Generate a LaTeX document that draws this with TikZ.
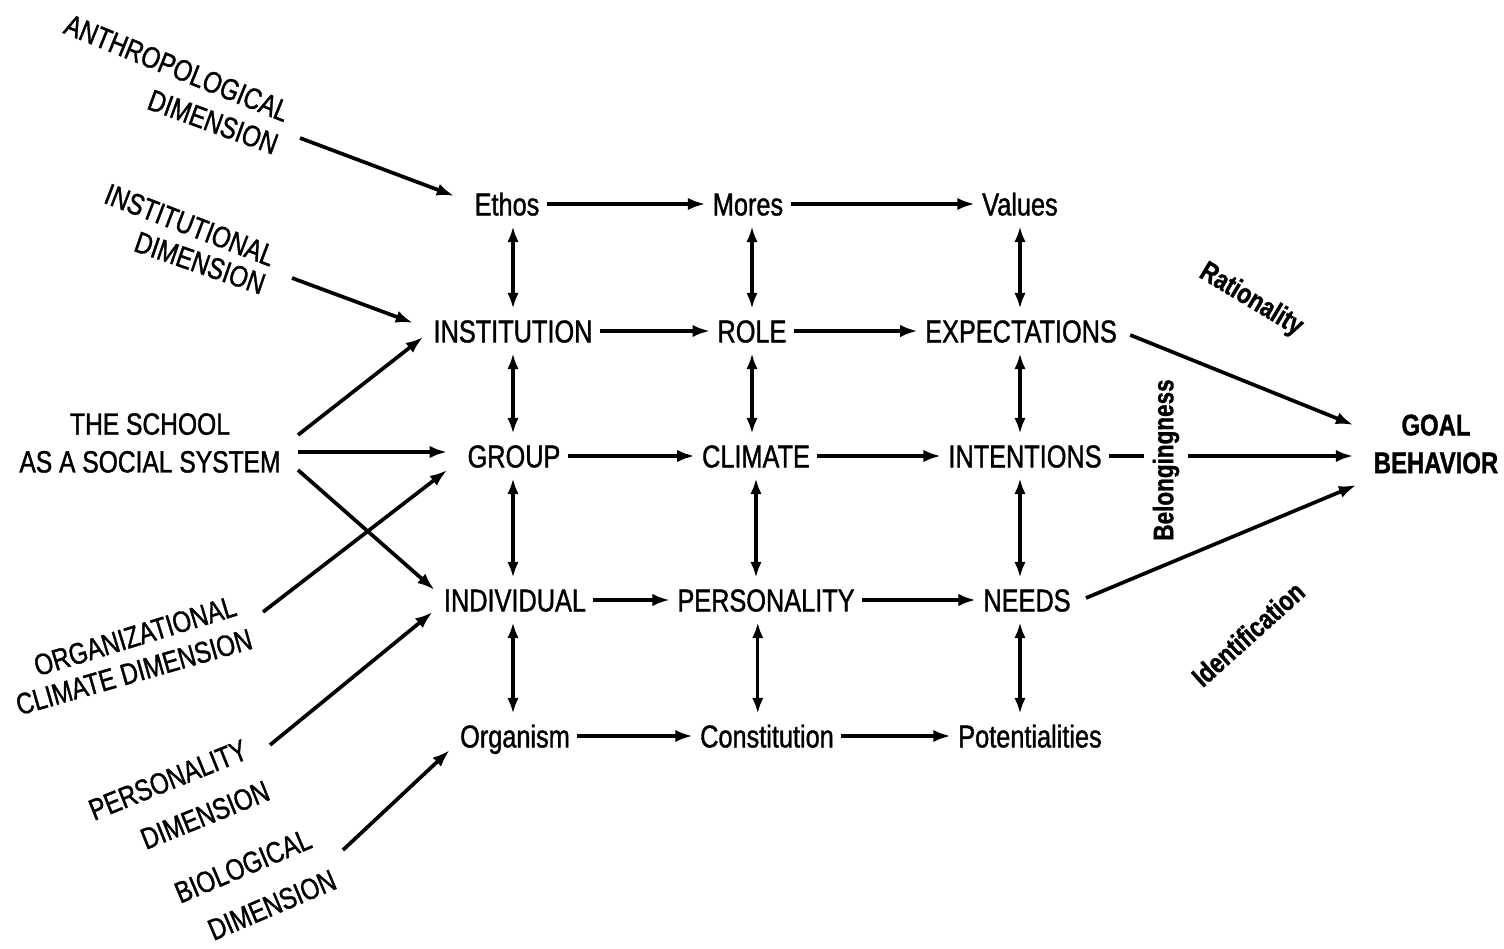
\documentclass[tikz,border=0pt]{standalone}
\usepackage{fontspec}
\setmainfont{Liberation Sans}[FakeStretch=0.8,FakeBold=1.2]
\usetikzlibrary{arrows.meta}
\begin{document}
\begin{tikzpicture}[x=0.02cm,y=-0.02cm,
  lbl/.style={inner xsep=4pt,inner ysep=6pt,text height=13pt,text depth=0pt,font=\fontsize{18}{21.5}\selectfont},
  glbl/.style={inner sep=4pt,font=\fontsize{18}{21.5}\selectfont},
  dim/.style={inner sep=1pt,font=\fontsize{17}{21.5}\selectfont},
  side/.style={inner sep=1pt,font=\bfseries\fontsize{16}{18}\selectfont},
  arr/.style={line width=2.1pt,-{Latex[length=10pt,width=7pt]}},
  darr/.style={line width=1.8pt,{Latex[length=9pt,width=6.5pt]}-{Latex[length=9pt,width=6.5pt]}}]
\useasboundingbox (0,0) rectangle (1504,949);
% grid nodes
\node[lbl] (ethos) at (507,204) {Ethos};
\node[lbl] (mores) at (748,204) {Mores};
\node[lbl] (values) at (1020,204) {Values};
\node[lbl] (inst) at (513,331) {INSTITUTION};
\node[lbl] (role) at (752,331) {ROLE};
\node[lbl] (expe) at (1021,331) {EXPECTATIONS};
\node[lbl] (group) at (514,456) {GROUP};
\node[lbl] (clim) at (756,456) {CLIMATE};
\node[lbl] (inte) at (1025,456) {INTENTIONS};
\node[lbl] (indi) at (515,600) {INDIVIDUAL};
\node[lbl] (pers) at (766,600) {PERSONALITY};
\node[lbl] (needs) at (1027,600) {NEEDS};
\node[lbl] (orga) at (515,736) {Organism};
\node[lbl] (cons) at (767,736) {Constitution};
\node[lbl] (pote) at (1030,736) {Potentialities};
\node[glbl,align=center,font=\bfseries\fontsize{17}{21.5}\selectfont] (goal) at (1436,444) {GOAL\\BEHAVIOR};
\node[glbl,align=center,font=\fontsize{17.5}{21.5}\selectfont] (school) at (150,443) {THE SCHOOL\\AS A SOCIAL SYSTEM};
% dimension labels
\node[dim,rotate=-22] (anth1) at (177,68) {ANTHROPOLOGICAL};
\node[dim,rotate=-20] (anth2) at (213,122) {DIMENSION};
\node[dim,rotate=-21] (inst1) at (190,225) {INSTITUTIONAL};
\node[dim,rotate=-19] (inst2) at (200,263) {DIMENSION};
\node[dim,rotate=17] (org1) at (135,636) {ORGANIZATIONAL};
\node[dim,rotate=16] (org2) at (134,672) {CLIMATE DIMENSION};
\node[dim,rotate=22] (pers1) at (168,780) {PERSONALITY};
\node[dim,rotate=22] (pers2) at (205,815) {DIMENSION};
\node[dim,rotate=23] (bio1) at (243,866) {BIOLOGICAL};
\node[dim,rotate=23] (bio2) at (272,905) {DIMENSION};
% start coordinates of dimension arrows
\coordinate (sAnth) at (300,138);
\coordinate (sInst) at (292,278);
\coordinate (sSchU) at (298,435);
\coordinate (sSchM) at (298,452);
\coordinate (sSchD) at (298,470);
\coordinate (sOrg) at (263,612);
\coordinate (sPers) at (270,745);
\coordinate (sBio) at (343,850);
% dimension arrows
\draw[arr] (sAnth) -- ([shift={(-13,-8)}]ethos.west);
\draw[arr] (sInst) -- ([shift={(-13,-8)}]inst.west);
\draw[arr] (sSchU) -- ([shift={(-3,6)}]inst.west);
\draw[arr] (sSchM) -- ([shift={(-13,-4)}]group.west);
\draw[arr] (sSchD) -- ([shift={(-2,-10)}]indi.west);
\draw[arr] (sOrg) -- ([shift={(-13,14)}]group.west);
\draw[arr] (sPers) -- ([shift={(-4,12)}]indi.west);
\draw[arr] (sBio) -- ([shift={(-3,14)}]orga.west);
% horizontal arrows
\draw[arr] (ethos) -- (mores);
\draw[arr] (mores) -- (values);
\draw[arr] (inst) -- (role);
\draw[arr] (role) -- (expe);
\draw[arr] (group) -- (clim);
\draw[arr] (clim) -- (inte);
\draw[arr] (indi) -- (pers);
\draw[arr] (pers) -- (needs);
\draw[arr] (orga) -- (cons);
\draw[arr] (cons) -- (pote);
% vertical double arrows
\draw[darr] (inst.north |- ethos.south) -- (inst.north);
\draw[darr] (inst.south) -- (inst.south |- group.north);
\draw[darr] (inst.south |- group.south) -- (inst.south |- indi.north);
\draw[darr] (inst.south |- indi.south) -- (inst.south |- orga.north);
\draw[darr] (role.north |- mores.south) -- (role.north);
\draw[darr] (role.south) -- (role.south |- clim.north);
\draw[darr] (clim.south) -- (clim.south |- pers.north);
\draw[darr] ([xshift=1]clim.south |- pers.south) -- ([xshift=1]clim.south |- cons.north);
\draw[darr] (values.south) -- (values.south |- expe.north);
\draw[darr] (values.south |- expe.south) -- (values.south |- inte.north);
\draw[darr] (values.south |- inte.south) -- (values.south |- needs.north);
\draw[darr] (values.south |- needs.south) -- (values.south |- pote.north);
% to goal behavior
\draw[arr] ([shift={(6,4)}]expe.east) -- ([shift={(-13,-19)}]goal.west);
\draw[arr] (inte.east) -- ([shift={(-13,12)}]goal.west);
\draw[arr] ([shift={(8,-2)}]needs.east) -- ([shift={(-10,41)}]goal.west);
% side labels
\node[side,rotate=-31] (rat) at (1251,300) {Rationality};
\node[side,rotate=90,fill=white,inner xsep=0pt,inner ysep=5pt] (bel) at (1166,460) {Belongingness};
\node[side,rotate=42] (ide) at (1248,634) {Identification};
\end{tikzpicture}
\end{document}
